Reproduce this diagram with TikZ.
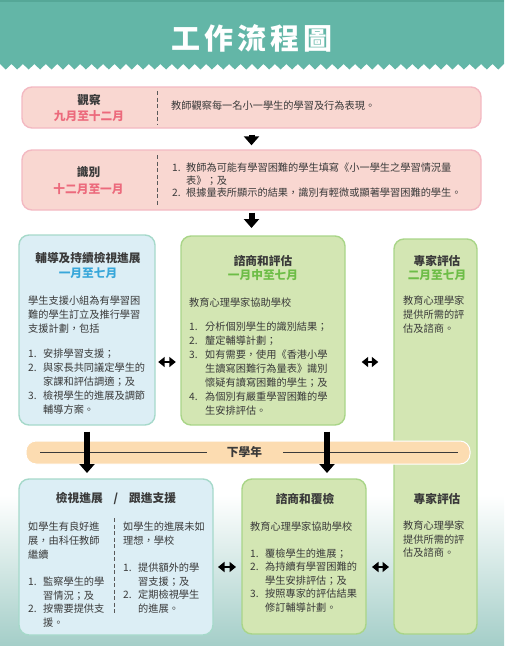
\documentclass[tikz,border=0pt]{standalone}
\usepackage{fontspec}
\setmainfont{Noto Sans CJK TC}
\usetikzlibrary{arrows.meta}
\definecolor{headteal}{HTML}{63B6A7}
\definecolor{headdark}{HTML}{55A797}
\definecolor{pinkfill}{HTML}{F9D7D1}
\definecolor{pinkborder}{HTML}{F3B9C2}
\definecolor{pinktext}{HTML}{EC6A7C}
\definecolor{bluefill}{HTML}{DCEEF5}
\definecolor{blueborder}{HTML}{A6D9CA}
\definecolor{bluetext}{HTML}{38A7DA}
\definecolor{greenfill}{HTML}{D3E6B3}
\definecolor{greenborder}{HTML}{A9D588}
\definecolor{greentext}{HTML}{6DBD47}
\definecolor{bandfill}{HTML}{FCDCB1}
\definecolor{bgteal}{HTML}{A4CEC8}
\definecolor{darktext}{HTML}{3A3A3A}
\newcommand{\listnum}[2][15pt]{\makebox[#1][l]{#2.}}
\newcommand{\listcont}[1][15pt]{\hspace*{#1}}
\tikzset{
  stagebox/.style={rectangle, rounded corners=10pt, line width=1.4pt},
  pinkbox/.style={stagebox, fill=pinkfill, draw=pinkborder},
  bluebox/.style={stagebox, fill=bluefill, draw=blueborder},
  greenbox/.style={stagebox, fill=greenfill, draw=greenborder},
  yearband/.style={rectangle, rounded corners=10pt, fill=bandfill, draw=white, line width=1pt},
  flow/.style={-{Triangle[width=15pt, length=9pt]}, line width=6pt, draw=black},
  link/.style={{Triangle[width=10pt, length=6.5pt]}-{Triangle[width=10pt, length=6.5pt]}, line width=2.4pt, draw=black},
  divider/.style={dash pattern=on 4pt off 2.5pt, line width=0.7pt, draw=black!65},
  stage-title/.style={font=\bfseries\fontsize{11.7}{15}\selectfont, align=center, text=darktext, inner sep=0pt},
  body/.style={font=\fontsize{10.2}{14}\selectfont, align=left, anchor=north west, inner sep=0pt, text=darktext}
}

\begin{document}
\begin{tikzpicture}[x=1pt, y=-1pt]
\useasboundingbox (0,0) rectangle (504,646);

% backdrop and header
\shade[top color=white, bottom color=bgteal] (0,495) rectangle (504,646);
\fill[headteal] (0,0) -- (0,64) \foreach \i in {0,...,43} {-- ({(\i+0.5)*11.4545},69.5) -- ({(\i+1)*11.4545},64)} -- (504,0) -- cycle;
\fill[headdark] (0,0) rectangle (504,2);
\node[font=\bfseries\fontsize{29}{30}\selectfont, text=white, inner sep=0pt] (title) at (252,38) {工\hspace{4pt}作\hspace{4pt}流\hspace{4pt}程\hspace{4pt}圖};

% boxes
\node[greenbox, minimum width=83pt, minimum height=395pt] (expert) at (435.5,436.5) {};
\node[yearband, minimum width=444pt, minimum height=23pt] (band) at (248,452.5) {};
\node[pinkbox, minimum width=459pt, minimum height=41pt] (observe) at (251.5,107.5) {};
\node[pinkbox, minimum width=459pt, minimum height=60pt] (identify) at (251.5,180) {};
\node[bluebox, minimum width=136pt, minimum height=190pt] (support) at (87,330) {};
\node[greenbox, minimum width=164pt, minimum height=189pt] (consult) at (263,330.5) {};
\node[bluebox, minimum width=194pt, minimum height=156pt] (review) at (116,557) {};
\node[greenbox, minimum width=124pt, minimum height=155pt] (recheck) at (304,556.5) {};

\draw[divider] (157,91) -- (157,124);
\draw[divider] (157,155) -- (157,205);
\draw[divider] (114,518) -- (114,615);

% next school year band
\draw[darktext, line width=0.7pt] (40,452) -- (207,452);
\draw[darktext, line width=0.7pt] (283,452) -- (458,452);
\node[stage-title] (band-label) at (244.5,452.5) {下學年};

% texts
\node[stage-title] (observe-label) at (89,108) {觀察\\[1pt]\textcolor{pinktext}{九月至十二月}};
\node[body, anchor=west] (observe-text) at (171,106) {教師觀察每一名小一學生的學習及行為表現。};

\node[stage-title] (identify-label) at (88.5,180.5) {識別\\[2pt]\textcolor{pinktext}{十二月至一月}};
\node[body, font=\fontsize{10.2}{12.5}\selectfont] (identify-text) at (172,163) {\listnum[14pt]{1}教師為可能有學習困難的學生填寫《小一學生之學習情況量\\
\listcont[14pt]表》；及\\
\listnum[14pt]{2}根據量表所顯示的結果，識別有輕微或顯著學習困難的學生。};

\node[stage-title] (support-title) at (88,265.5) {輔導及持續檢視進展\\\textcolor{bluetext}{一月至七月}};
\node[body] (support-text) at (28,296) {學生支援小組為有學習困\\
難的學生訂立及推行學習\\
支援計劃，包括\\[11pt]
\listnum{1}安排學習支援；\\
\listnum{2}與家長共同議定學生的\\
\listcont 家課和評估調適；及\\
\listnum{3}檢視學生的進展及調節\\
\listcont 輔導方案。};

\node[stage-title] (consult-title) at (263,268) {諮商和評估\\[-1pt]\textcolor{greentext}{一月中至七月}};
\node[body] (consult-text) at (189,298) {教育心理學家協助學校\\[10pt]
\listnum[16pt]{1}分析個別學生的識別結果；\\
\listnum[16pt]{2}釐定輔導計劃；\\
\listnum[16pt]{3}如有需要，使用《香港小學\\
\listcont[16pt]生讀寫困難行為量表》識別\\
\listcont[16pt]懷疑有讀寫困難的學生；及\\
\listnum[16pt]{4}為個別有嚴重學習困難的學\\
\listcont[16pt]生安排評估。};

\node[stage-title] (expert-title) at (437,268) {專家評估\\[-1pt]\textcolor{greentext}{二月至七月}};
\node[body] (expert-text) at (403,296) {教育心理學家\\提供所需的評\\估及諮商。};
\node[stage-title] (expert-title-b) at (437,499) {專家評估};
\node[body, font=\fontsize{10.2}{13.5}\selectfont] (expert-text-b) at (403,521) {教育心理學家\\提供所需的評\\估及諮商。};

\node[stage-title] (review-title) at (116,498) {檢視進展\hspace{11pt}/\hspace{11pt}跟進支援};
\node[body, font=\fontsize{10.2}{13.6}\selectfont] (review-left) at (28,522) {如學生有良好進\\
展，由科任教師\\
繼續\\[14pt]
\listnum{1}監察學生的學\\
\listcont 習情況；及\\
\listnum{2}按需要提供支\\
\listcont 援。};
\node[body, font=\fontsize{10.2}{13.6}\selectfont] (review-right) at (123,522) {如學生的進展未如\\
理想，學校\\[13.5pt]
\listnum{1}提供額外的學\\
\listcont 習支援；及\\
\listnum{2}定期檢視學生\\
\listcont 的進展。};

\node[stage-title] (recheck-title) at (305,499) {諮商和覆檢};
\node[body, font=\fontsize{10.2}{13.6}\selectfont] (recheck-text) at (250,522) {教育心理學家協助學校\\[12.5pt]
\listnum{1}覆檢學生的進展；\\
\listnum{2}為持續有學習困難的\\
\listcont 學生安排評估；及\\
\listnum{3}按照專家的評估結果\\
\listcont 修訂輔導計劃。};

% arrows
\coordinate (split) at (251.5,228);
\coordinate (down-left) at (87,473);
\coordinate (down-right) at (327,473);
\coordinate (link-a) at (167,362);
\coordinate (link-b) at (370,362);
\coordinate (link-c) at (227,567);
\coordinate (link-d) at (380,567);

\draw[flow, shorten <=6pt, shorten >=4pt] (observe) -- (identify);
\draw[flow, shorten <=2pt] (identify) -- (split);
\draw[flow, shorten <=6pt] (support) -- (down-left);
\draw[flow, shorten <=6pt] (consult.south -| down-right) -- (down-right);

\draw[link, shorten <=2.5pt, shorten >=4.5pt] (support.east |- link-a) -- (consult.west |- link-a);
\draw[link, shorten <=16pt, shorten >=15pt] (consult.east |- link-b) -- (expert.west |- link-b);
\draw[link, shorten <=4.3pt, shorten >=5.3pt] (review.east |- link-c) -- (recheck.west |- link-c);
\draw[link, shorten <=5.3pt, shorten >=4.3pt] (recheck.east |- link-d) -- (expert.west |- link-d);

\end{tikzpicture}
\end{document}
